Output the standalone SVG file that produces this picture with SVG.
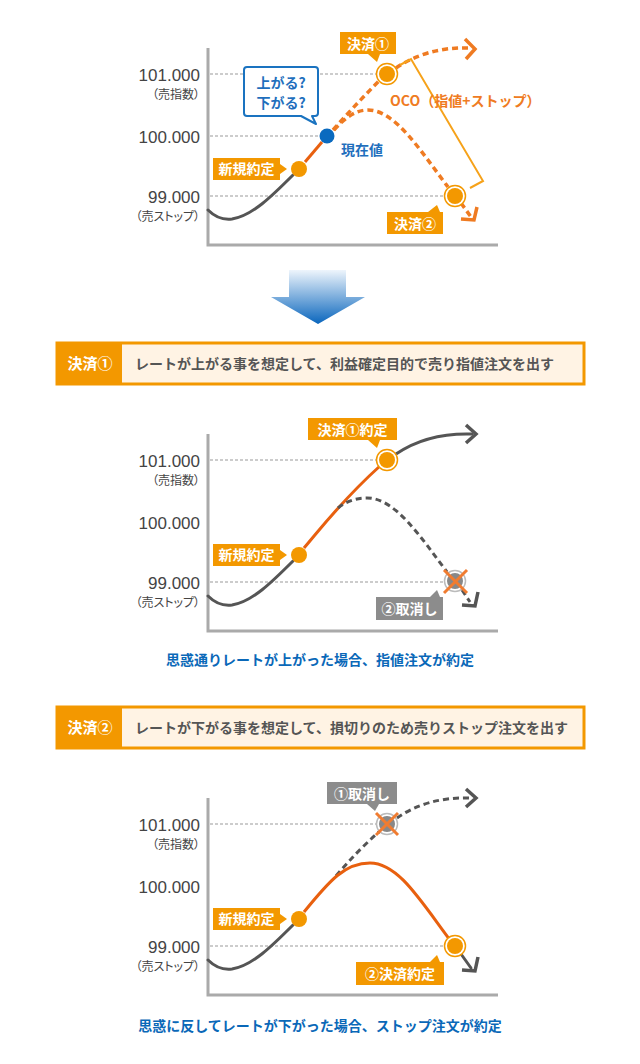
<svg xmlns="http://www.w3.org/2000/svg" width="640" height="1064" viewBox="0 0 640 1064">
<defs>
<linearGradient id="gArrow" x1="0" y1="0" x2="0" y2="1">
<stop offset="0" stop-color="#eef5fc"/>
<stop offset="1" stop-color="#0a66bd"/>
</linearGradient>
<style>
.jp{font-family:"Noto Sans CJK JP","Noto Sans CJK SC",sans-serif;font-weight:700}
.lbl{font-size:14px;fill:#fff;text-anchor:middle}
.num{font-family:"Liberation Sans",Arial,sans-serif;font-size:17px;fill:#444;text-anchor:end}
.sub{font-family:"Noto Sans CJK JP",sans-serif;font-size:12px;fill:#444;text-anchor:end;font-feature-settings:"palt"}
.grid{stroke:#999;stroke-width:1;stroke-dasharray:3 2}
.axis{fill:none;stroke:#aaa;stroke-width:3}
.curve{fill:none;stroke:#555;stroke-width:3;stroke-linecap:round}
.hit{fill:none;stroke:#e8600f;stroke-width:3}
.odash{fill:none;stroke:#ef7b22;stroke-width:3.5;stroke-dasharray:6 4}
.gdash{fill:none;stroke:#555;stroke-width:3;stroke-dasharray:6 4}
.ochev{fill:none;stroke:#ef7b22;stroke-width:3.5}
.gchev{fill:none;stroke:#555;stroke-width:3.5}
.obox{fill:#f39800}
.gbox{fill:#8c8c8c}
.ring{fill:#fff;stroke:#f39800;stroke-width:1.5}
.dot{fill:#f39800}
.xring{fill:#fff;stroke:#bbb;stroke-width:1.5}
.xdot{fill:#888}
.xmark{stroke:#f07c30;stroke-width:3}
.cap{font-size:14px;fill:#0a68b8;text-anchor:middle}
.btxt{font-size:14px;fill:#555}
.bhead{font-size:15px;fill:#fff;text-anchor:middle}
.bub{font-size:14px;fill:#1f6fbd;text-anchor:middle}
</style>
</defs>

<!-- ===== Chart 1 ===== -->
<g id="chart1">
<g id="c1-axes">
<line class="grid" x1="210" y1="74" x2="378" y2="74"/>
<line class="grid" x1="210" y1="136" x2="320" y2="136"/>
<line class="grid" x1="210" y1="196" x2="446" y2="196"/>
<polyline class="axis" points="208,48 208,245 498,245"/>
<text class="num" x="200" y="81">101.000</text>
<text class="sub" x="200" y="99">（売指数）</text>
<text class="num" x="200" y="143">100.000</text>
<text class="num" x="200" y="203">99.000</text>
<text class="sub" x="200" y="221">（売ストップ）</text>
</g>
<g id="c1-connectors">
<path class="curve" d="M208,210 C216,218 224,220 232,219 C252,216 272,196 293,175"/>
<line class="hit" x1="305" y1="162" x2="322" y2="142"/>
<path class="odash" d="M333,130 Q356,104 380,80"/>
<path class="odash" d="M396,68 C415,55 440,47 468,48"/>
<polyline class="ochev" points="465,39 475,49 466,59"/>
<path class="odash" d="M334,130 C345,118 355,110 368,110 C395,110 420,150 448,187"/>
<path class="odash" d="M461,203 L471,217"/>
<polyline class="ochev" points="461,219 474,220 477,207"/>
<polyline fill="none" stroke="#f6a21a" stroke-width="2" points="400,65 411,59 483,181 470,188"/>
</g>
<g id="c1-new">
<circle class="dot" cx="299" cy="169" r="8"/>
<rect class="obox" x="213" y="158" width="67" height="22"/>
<polygon class="obox" points="280,164 287,169 280,174"/>
<text class="jp lbl" x="246.5" y="174">新規約定</text>
</g>
<g id="c1-now">
<circle cx="327" cy="136" r="7.5" fill="#0a6abf"/>
<text class="jp" x="341" y="155" font-size="14" fill="#1f6fbd">現在値</text>
</g>
<g id="c1-bubble">
<path d="M247,67 H315 Q318,67 318,70 V113 Q318,116 315,116 H312 L316,124 L301,116 H247 Q244,116 244,113 V70 Q244,67 247,67 Z" fill="#fff" stroke="#1a73c0" stroke-width="2" stroke-linejoin="round"/>
<text class="jp bub" x="281" y="88">上がる?</text>
<text class="jp bub" x="281" y="108">下がる?</text>
</g>
<g id="c1-exit1">
<circle class="ring" cx="387" cy="74" r="10.5"/>
<circle class="dot" cx="387" cy="74" r="8"/>
<rect class="obox" x="340" y="32" width="56" height="22"/>
<polygon class="obox" points="368,54 377,62 380,54"/>
<text class="jp lbl" x="368" y="49">決済①</text>
</g>
<g id="c1-exit2">
<circle class="ring" cx="455" cy="196" r="10.5"/>
<circle class="dot" cx="455" cy="196" r="8"/>
<rect class="obox" x="387" y="212" width="56" height="22"/>
<polygon class="obox" points="428,212 437,205 440,212"/>
<text class="jp lbl" x="415" y="229">決済②</text>
</g>
<g id="c1-oco">
<text class="jp" x="390" y="106" font-size="14" fill="#ef7b22">OCO（指値+ストップ）</text>
</g>
</g>

<!-- ===== Big arrow ===== -->
<g id="down-arrow">
<polygon points="289,270 346,270 346,297 365,297 318,324 271,297 289,297" fill="url(#gArrow)"/>
</g>

<!-- ===== Banner 1 ===== -->
<g id="banner1">
<rect x="57" y="343" width="527" height="41" fill="#fff3e4" stroke="#f39800" stroke-width="3"/>
<rect x="57" y="343" width="65" height="41" fill="#f39800"/>
<text class="jp bhead" x="90" y="369">決済①</text>
<text class="jp btxt" x="135" y="369">レートが上がる事を想定して、利益確定目的で売り指値注文を出す</text>
</g>

<!-- ===== Chart 2 ===== -->
<g id="chart2" transform="translate(0,386)">
<g id="c2-axes">
<line class="grid" x1="210" y1="74" x2="378" y2="74"/>
<line class="grid" x1="210" y1="196" x2="446" y2="196"/>
<polyline class="axis" points="208,48 208,245 498,245"/>
<text class="num" x="200" y="81">101.000</text>
<text class="sub" x="200" y="99">（売指数）</text>
<text class="num" x="200" y="143">100.000</text>
<text class="num" x="200" y="203">99.000</text>
<text class="sub" x="200" y="221">（売ストップ）</text>
</g>
<g id="c2-connectors">
<path class="curve" d="M208,210 C216,218 224,220 232,219 C252,216 272,196 293,175"/>
<path class="hit" d="M304,162 C318,146 340,116 380,80"/>
<path class="curve" d="M396,68 C415,55 440,47 472,48"/>
<polyline class="gchev" points="466,39 476,48 466,57"/>
<path class="gdash" d="M338,122 C345,116 355,112 367,112 C395,112 420,150 447,186"/>
<path class="gdash" d="M462,204 L470,216"/>
<polyline class="gchev" points="462,219 475,220 478,206"/>
</g>
<g id="c2-new">
<circle class="dot" cx="299" cy="169" r="8"/>
<rect class="obox" x="213" y="158" width="67" height="22"/>
<polygon class="obox" points="280,164 287,169 280,174"/>
<text class="jp lbl" x="246.5" y="174">新規約定</text>
</g>
<g id="c2-exit1">
<circle class="ring" cx="387" cy="74" r="10.5"/>
<circle class="dot" cx="387" cy="74" r="8"/>
<rect class="obox" x="308" y="32" width="89" height="22"/>
<polygon class="obox" points="368,54 377,62 380,54"/>
<text class="jp lbl" x="352.5" y="49">決済①約定</text>
</g>
<g id="c2-cancel2">
<circle class="xring" cx="455" cy="195" r="10.5"/>
<circle class="xdot" cx="455" cy="195" r="8"/>
<line class="xmark" x1="444" y1="184" x2="467" y2="207"/>
<line class="xmark" x1="467" y1="184" x2="444" y2="207"/>
<rect class="gbox" x="376" y="211" width="67" height="23"/>
<polygon class="gbox" points="430,211 437,204 440,211"/>
<text class="jp lbl" x="409.5" y="228">②取消し</text>
</g>
</g>

<!-- ===== Caption 1 ===== -->
<g id="caption1">
<text class="jp cap" x="320" y="665">思惑通りレートが上がった場合、指値注文が約定</text>
</g>

<!-- ===== Banner 2 ===== -->
<g id="banner2">
<rect x="57" y="707" width="527" height="41" fill="#fff3e4" stroke="#f39800" stroke-width="3"/>
<rect x="57" y="707" width="65" height="41" fill="#f39800"/>
<text class="jp bhead" x="90" y="733">決済②</text>
<text class="jp btxt" x="135" y="733">レートが下がる事を想定して、損切りのため売りストップ注文を出す</text>
</g>

<!-- ===== Chart 3 ===== -->
<g id="chart3" transform="translate(0,750)">
<g id="c3-axes">
<line class="grid" x1="210" y1="74" x2="378" y2="74"/>
<line class="grid" x1="210" y1="196" x2="446" y2="196"/>
<polyline class="axis" points="208,48 208,245 498,245"/>
<text class="num" x="200" y="81">101.000</text>
<text class="sub" x="200" y="99">（売指数）</text>
<text class="num" x="200" y="143">100.000</text>
<text class="num" x="200" y="203">99.000</text>
<text class="sub" x="200" y="221">（売ストップ）</text>
</g>
<g id="c3-connectors">
<path class="curve" d="M208,210 C216,218 224,220 232,219 C252,216 272,196 293,175"/>
<path class="gdash" d="M336,126 Q358,100 380,81"/>
<path class="gdash" d="M397,68 C415,55 440,47 470,48"/>
<polyline class="gchev" points="466,39 476,48 466,57"/>
<path class="hit" d="M304,162 C330,130 345,113 370,113 C398,113 420,150 450,190"/>
<line class="curve" x1="461" y1="204" x2="471" y2="218"/>
<polyline class="gchev" points="462,220 475,221 478,207"/>
</g>
<g id="c3-new">
<circle class="dot" cx="299" cy="169" r="8"/>
<rect class="obox" x="213" y="158" width="67" height="22"/>
<polygon class="obox" points="280,164 287,169 280,174"/>
<text class="jp lbl" x="246.5" y="174">新規約定</text>
</g>
<g id="c3-cancel1">
<circle class="xring" cx="387" cy="74" r="10.5"/>
<circle class="xdot" cx="387" cy="74" r="8"/>
<line class="xmark" x1="376" y1="63" x2="398" y2="85"/>
<line class="xmark" x1="398" y1="63" x2="376" y2="85"/>
<rect class="gbox" x="327" y="32" width="70" height="22"/>
<polygon class="gbox" points="367,54 375,61 379,54"/>
<text class="jp lbl" x="362" y="49">①取消し</text>
</g>
<g id="c3-exit2">
<circle class="ring" cx="455" cy="196" r="10.5"/>
<circle class="dot" cx="455" cy="196" r="8"/>
<rect class="obox" x="356" y="212" width="88" height="23"/>
<polygon class="obox" points="430,212 437,205 440,212"/>
<text class="jp lbl" x="400" y="229">②決済約定</text>
</g>
</g>

<!-- ===== Caption 2 ===== -->
<g id="caption2">
<text class="jp cap" x="320" y="1031">思惑に反してレートが下がった場合、ストップ注文が約定</text>
</g>
</svg>
